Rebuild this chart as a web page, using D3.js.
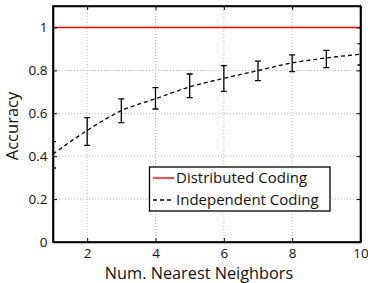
<!DOCTYPE html>
<html>
<head>
<meta charset="utf-8">
<script src="https://cdn.jsdelivr.net/npm/d3@7"></script>
<style>
  body { margin: 0; background: #fff; }
  text { font-family: "Open Sans", sans-serif; fill: #111; }
</style>
</head>
<body>
<svg id="chart" width="368" height="283"></svg>
<script>
// values
const neighbors = [1, 2, 3, 4, 5, 6, 7, 8, 9, 10];
const distributed = [1, 1, 1, 1, 1, 1, 1, 1, 1, 1];
const independent = [0.41, 0.52, 0.612, 0.668, 0.723, 0.763, 0.799, 0.835, 0.858, 0.875];
const indepLow = [0.345, 0.45, 0.556, 0.62, 0.673, 0.702, 0.752, 0.794, 0.813, 0.825];
const indepHigh = [0.468, 0.58, 0.667, 0.72, 0.783, 0.822, 0.843, 0.872, 0.893, 0.925];
const xTicks = [2, 4, 6, 8, 10];
const yTicks = [0, 0.2, 0.4, 0.6, 0.8, 1];
const seriesNames = ["Distributed Coding", "Independent Coding"];

const margin = { top: 6, right: 7.5, bottom: 41, left: 53 };
const width = 368, height = 283;
const svg = d3.select('#chart');

const x = d3.scaleLinear().domain([1, 10]).range([margin.left, width - margin.right]);
const y = d3.scaleLinear().domain([0, 1.1]).range([height - margin.bottom, margin.top]);

svg.append('defs').append('clipPath').attr('id', 'clip')
  .append('rect')
  .attr('x', x(1)).attr('y', y(1.1))
  .attr('width', x(10) - x(1)).attr('height', y(0) - y(1.1));

// grid
const grid = svg.append('g').attr('stroke', '#bbb').attr('stroke-dasharray', '1,2').attr('stroke-width', 1);
xTicks.filter(d => d < 10).forEach(d => {
  grid.append('line').attr('x1', x(d)).attr('x2', x(d)).attr('y1', y(0)).attr('y2', y(1.1));
});
yTicks.filter(d => d > 0).forEach(d => {
  grid.append('line').attr('x1', x(1)).attr('x2', x(10)).attr('y1', y(d)).attr('y2', y(d));
});

const plot = svg.append('g').attr('clip-path', 'url(#clip)');

// independent coding curve
const line = d3.line()
  .x((d, i) => x(neighbors[i]))
  .y(d => y(d))
  .curve(d3.curveMonotoneX);

plot.append('path')
  .datum(independent)
  .attr('d', line)
  .attr('fill', 'none')
  .attr('stroke', '#000')
  .attr('stroke-width', 1.3)
  .attr('stroke-dasharray', '4,3');

// error bars
neighbors.forEach((n, i) => {
  const g = plot.append('g').attr('stroke', '#000').attr('stroke-width', 1.3);
  g.append('line').attr('x1', x(n)).attr('x2', x(n)).attr('y1', y(indepLow[i])).attr('y2', y(indepHigh[i]));
  g.append('line').attr('x1', x(n) - 3).attr('x2', x(n) + 3).attr('y1', y(indepLow[i])).attr('y2', y(indepLow[i]));
  g.append('line').attr('x1', x(n) - 3).attr('x2', x(n) + 3).attr('y1', y(indepHigh[i])).attr('y2', y(indepHigh[i]));
});

// distributed coding
plot.append('path')
  .datum(distributed)
  .attr('d', d3.line().x((d, i) => x(neighbors[i])).y(d => y(d)))
  .attr('fill', 'none')
  .attr('stroke', '#ff0000')
  .attr('stroke-width', 1.5);

// axes with inward ticks
const xAxis = d3.axisBottom(x).tickValues(xTicks).tickSizeInner(-4).tickSizeOuter(0).tickPadding(6.5);
const yAxis = d3.axisLeft(y).tickValues(yTicks).tickSizeInner(-4).tickSizeOuter(0).tickPadding(5.5).tickFormat(d3.format('~g'));

const gx = svg.append('g').attr('transform', `translate(0,${y(0)})`).call(xAxis);
const gy = svg.append('g').attr('transform', `translate(${x(1)},0)`).call(yAxis);
const gx2 = svg.append('g').attr('transform', `translate(0,${y(1.1)})`)
  .call(d3.axisTop(x).tickValues(xTicks).tickSizeInner(-4).tickSizeOuter(0).tickFormat(''));
const gy2 = svg.append('g').attr('transform', `translate(${x(10)},0)`)
  .call(d3.axisRight(y).tickValues(yTicks).tickSizeInner(-4).tickSizeOuter(0).tickFormat(''));

[gx, gy, gx2, gy2].forEach(g => {
  g.select('.domain').attr('stroke', '#000').attr('stroke-width', 1.6);
  g.selectAll('.tick line').attr('stroke', '#000');
  g.selectAll('.tick text').style('font-size', '13.5px').attr('fill', '#111').style('font-family', '"Open Sans", sans-serif');
});
svg.append('rect')
  .attr('x', x(1)).attr('y', y(1.1)).attr('width', x(10) - x(1)).attr('height', y(0) - y(1.1))
  .attr('fill', 'none').attr('stroke', '#000').attr('stroke-width', 1.6);

// axis titles
svg.append('text')
  .attr('x', 199).attr('y', 278.5)
  .attr('text-anchor', 'middle')
  .style('font-size', '16.3px')
  .text('Num. Nearest Neighbors');

svg.append('text')
  .attr('transform', `translate(18,126) rotate(-90)`)
  .attr('text-anchor', 'middle')
  .style('font-size', '16.5px')
  .text('Accuracy');

// legend
const legend = svg.append('g');
legend.append('rect')
  .attr('x', 149.5).attr('y', 167).attr('width', 180.5).attr('height', 44)
  .attr('fill', '#fff').attr('stroke', '#000').attr('stroke-width', 1.3);
const legendStyles = [
  { color: '#ff0000', dash: null },
  { color: '#000', dash: '4,3' }
];
seriesNames.forEach((name, i) => {
  const ly = 178 + i * 22;
  legend.append('line')
    .attr('x1', 153).attr('x2', 174).attr('y1', ly).attr('y2', ly)
    .attr('stroke', legendStyles[i].color)
    .attr('stroke-width', 1.4)
    .attr('stroke-dasharray', legendStyles[i].dash);
  legend.append('text')
    .attr('x', 176).attr('y', ly + 5)
    .style('font-size', '15px')
    .text(name);
});
</script>
</body>
</html>
